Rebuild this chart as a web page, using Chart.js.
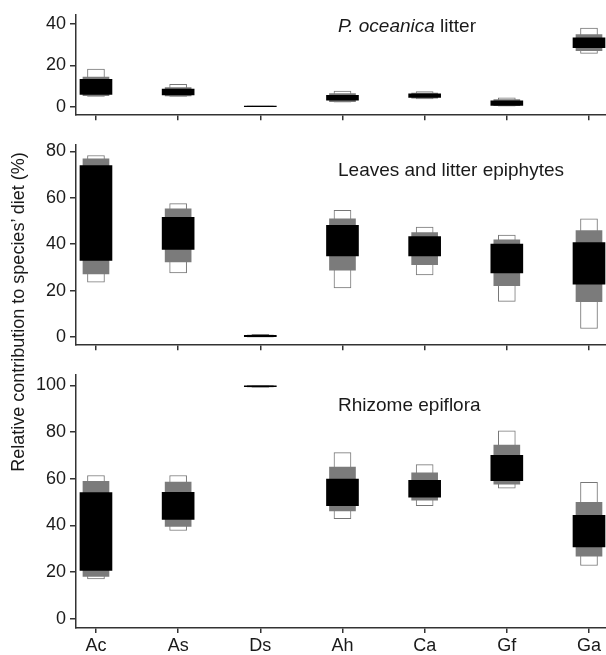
<!DOCTYPE html>
<html>
<head>
<meta charset="utf-8">
<script src="https://cdn.jsdelivr.net/npm/chart.js@4.4.1/dist/chart.umd.min.js"></script>
<style>
  html, body { margin: 0; padding: 0; background: #fff; }
  #wrap {
    position: relative; width: 606px; height: 655px; overflow: hidden;
    font-family: "Liberation Sans", Arial, sans-serif; color: #1a1a1a;
  }
  #wrap canvas { position: absolute; left: 0; }
  .panel-title { position: absolute; left: 338px; font-size: 19px; line-height: 1; white-space: nowrap; }
  #ytitle {
    position: absolute; width: 360px; left: -162px; top: 303px;
    font-size: 18px; line-height: 1; text-align: center; white-space: nowrap;
    transform: rotate(-90deg);
  }
</style>
</head>
<body>
<div id="wrap">
  <canvas id="litter" width="606" height="130" style="top:0"></canvas>
  <canvas id="leaves" width="606" height="230" style="top:130px"></canvas>
  <canvas id="rhizome" width="606" height="295" style="top:360px"></canvas>
  <div class="panel-title" style="top:16px"><i>P. oceanica</i> litter</div>
  <div class="panel-title" style="top:160px">Leaves and litter epiphytes</div>
  <div class="panel-title" style="top:395px">Rhizome epiflora</div>
  <div id="ytitle">Relative contribution to species’ diet (%)</div>
</div>
<script>
// species on the x axis
const categories = ['Ac', 'As', 'Ds', 'Ah', 'Ca', 'Gf', 'Ga'];

// credible intervals [low, high] in %, per species
// P. oceanica litter
const litter95 = [[5.0, 18.2], [5.0, 10.8], [0, 0.3], [2.2, 7.6], [3.8, 7.3], [0.3, 4.3], [25.7, 37.9]];
const litter75 = [[5.4, 14.3], [5.2, 9.3], [0, 0.2], [2.5, 6.4], [4.1, 6.6], [0.5, 3.5], [27.0, 34.8]];
const litter50 = [[6.0, 13.2], [5.7, 8.5], [0, 0.1], [3.2, 5.5], [4.5, 6.2], [0.7, 2.9], [28.5, 33.2]];

// Leaves and litter epiphytes
const leaves95 = [[23.6, 78.2], [27.6, 57.5], [0, 1.2], [21.2, 54.6], [26.8, 47.4], [15.4, 43.9], [3.7, 50.9]];
const leaves75 = [[27.2, 76.8], [32.4, 55.2], [0.1, 0.9], [28.8, 50.9], [31.2, 45.0], [22.1, 41.9], [15.2, 45.9]];
const leaves50 = [[33.0, 73.8], [37.8, 51.6], [0.2, 0.7], [34.9, 48.1], [34.9, 43.3], [27.6, 40.0], [22.8, 40.7]];

// Rhizome epiflora
const rhizome95 = [[17.0, 61.4], [37.8, 61.4], [99.2, 100], [42.9, 71.2], [48.5, 66.1], [56.0, 80.6], [22.8, 58.5]];
const rhizome75 = [[18.1, 58.9], [39.6, 58.6], [99.4, 100], [46.2, 65.0], [50.8, 62.5], [57.7, 74.5], [26.8, 49.9]];
const rhizome50 = [[20.7, 54.1], [42.6, 54.2], [99.5, 99.9], [48.5, 59.9], [52.1, 59.3], [59.2, 70.1], [30.8, 44.3]];

// tick labels
const litterTicks = [0, 20, 40];
const leavesTicks = [0, 20, 40, 60, 80];
const rhizomeTicks = [0, 20, 40, 60, 80, 100];

const FONT = '"Liberation Sans", Arial, sans-serif';
const AXIS = '#333';

function toPoints(ranges) {
  return ranges.map((r, i) => ({ x: i, y: r }));
}

function buildPanel(id, p) {
  const ctx = document.getElementById(id);
  return new Chart(ctx, {
    type: 'bar',
    data: {
      datasets: [
        { data: toPoints(p.ci50), backgroundColor: '#000', borderWidth: 0, barThickness: 32, grouped: false, order: 0 },
        { data: toPoints(p.ci75), backgroundColor: '#7b7b7b', borderWidth: 0, barThickness: 26, grouped: false, order: 1 },
        { data: toPoints(p.ci95), backgroundColor: '#fff', borderColor: '#777', borderWidth: 1, borderSkipped: false,
          barThickness: 17, grouped: false, order: 2 }
      ]
    },
    options: {
      responsive: false,
      animation: false,
      layout: { autoPadding: false, padding: { top: p.padTop, left: 0, right: 0, bottom: 0 } },
      plugins: { legend: { display: false }, tooltip: { enabled: false } },
      scales: {
        x: {
          type: 'linear',
          offset: false,
          min: -0.243,
          max: 6.207,
          afterBuildTicks: s => { s.ticks = categories.map((c, i) => ({ value: i })); },
          afterFit: s => { s.height = p.xHeight; },
          grid: { offset: false, drawOnChartArea: false, drawTicks: true, tickLength: 5, color: AXIS, lineWidth: 1.5 },
          border: { display: true, color: AXIS, width: 1.5 },
          ticks: {
            autoSkip: false, maxRotation: 0, padding: 2, color: '#1a1a1a',
            font: { family: FONT, size: 18 },
            callback: v => (p.showLabels ? categories[v] : '')
          }
        },
        y: {
          min: p.yMin,
          max: p.yMax,
          afterBuildTicks: s => { s.ticks = p.yTicks.map(v => ({ value: v })); },
          afterFit: s => { s.width = 76; },
          grid: { drawOnChartArea: false, drawTicks: true, tickLength: 6, color: AXIS, lineWidth: 1.5 },
          border: { display: true, color: AXIS, width: 1.5 },
          ticks: { padding: 4, color: '#1a1a1a', font: { family: FONT, size: 18 } }
        }
      }
    }
  });
}

buildPanel('litter', {
  ci95: litter95, ci75: litter75, ci50: litter50, yTicks: litterTicks,
  yMin: -4.04, yMax: 44.3, padTop: 8, xHeight: 6, showLabels: false
});
buildPanel('leaves', {
  ci95: leaves95, ci75: leaves75, ci50: leaves50, yTicks: leavesTicks,
  yMin: -3.5, yMax: 82.8, padTop: 14, xHeight: 9, showLabels: false
});
buildPanel('rhizome', {
  ci95: rhizome95, ci75: rhizome75, ci50: rhizome50, yTicks: rhizomeTicks,
  yMin: -4.02, yMax: 104.6, padTop: 6, xHeight: 27, showLabels: true
});
</script>
</body>
</html>
